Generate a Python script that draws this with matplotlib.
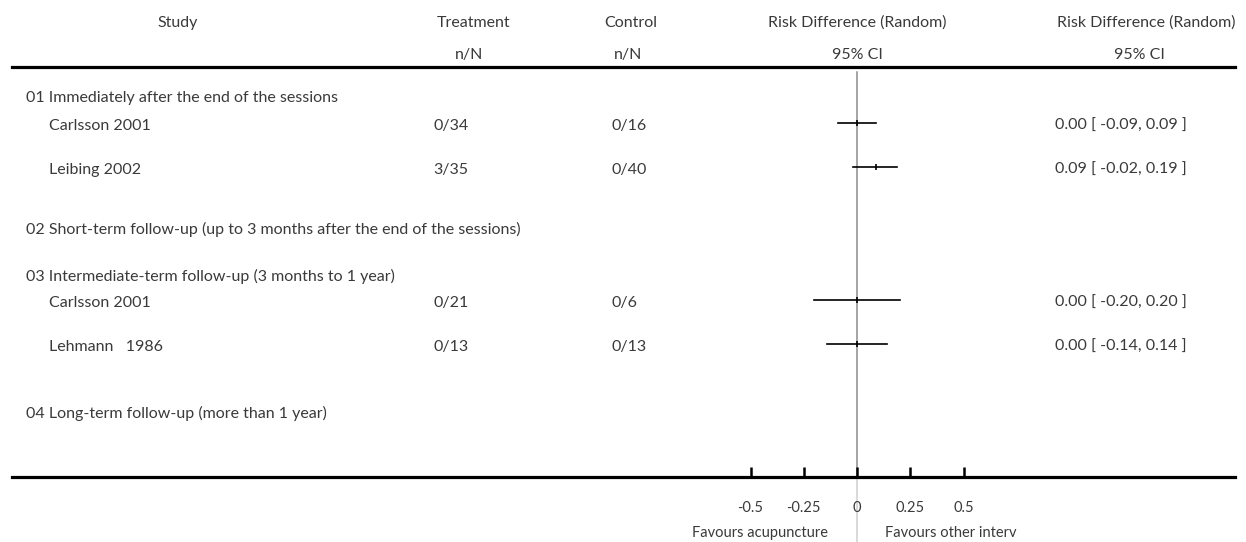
import matplotlib
matplotlib.use('Agg')
import matplotlib.pyplot as plt

plt.rcParams['font.family'] = ['Lato', 'DejaVu Sans']

# data
groups = ['01 Immediately after the end of the sessions',
          '02 Short-term follow-up (up to 3 months after the end of the sessions)',
          '03 Intermediate-term follow-up (3 months to 1 year)',
          '04 Long-term follow-up (more than 1 year)']
studies = ['Carlsson 2001', 'Leibing 2002', 'Carlsson 2001', 'Lehmann   1986']
treat = ['0/34', '3/35', '0/21', '0/13']
ctrl = ['0/16', '0/40', '0/6', '0/13']
rd = [0.00, 0.09, 0.00, 0.00]
lo = [-0.09, -0.02, -0.20, -0.14]
hi = [0.09, 0.19, 0.20, 0.14]
ticks = [-0.5, -0.25, 0, 0.25, 0.5]
tick_labels = ['-0.5', '-0.25', '0', '0.25', '0.5']

# layout (pixels)
W, H = 1246, 542
group_y = [98, 229, 276, 413]
study_y = [123, 167, 300, 344]
x0_px, unit_px = 857, 213
left_px, right_px, top_px, axis_px = 12, 1235, 67, 477

fig = plt.figure(figsize=(W / 100, H / 100), dpi=100)

bg = fig.add_axes([0, 0, 1, 1])
bg.set_xlim(0, W)
bg.set_ylim(H, 0)
bg.axis('off')

fs = 11.5
txt = '#3a3a3a'
kw = dict(fontsize=fs, color=txt)

# headers
bg.text(178, 23, 'Study', ha='center', va='center', **kw)
bg.text(474, 23, 'Treatment', ha='center', va='center', **kw)
bg.text(469, 55, 'n/N', ha='center', va='center', **kw)
bg.text(631, 23, 'Control', ha='center', va='center', **kw)
bg.text(628, 55, 'n/N', ha='center', va='center', **kw)
bg.text(857, 23, 'Risk Difference (Random)', ha='center', va='center', **kw)
bg.text(857, 55, '95% CI', ha='center', va='center', **kw)
bg.text(1146, 23, 'Risk Difference (Random)', ha='center', va='center', **kw)
bg.text(1139, 55, '95% CI', ha='center', va='center', **kw)

for g, y in zip(groups, group_y):
    bg.text(26, y, g, ha='left', va='center', **kw)

for i, y in enumerate(study_y):
    ty = y + 3
    bg.text(49, ty, studies[i], ha='left', va='center', **kw)
    bg.text(433, ty, treat[i], ha='left', va='center', **kw)
    bg.text(611, ty, ctrl[i], ha='left', va='center', **kw)
    bg.text(1055, ty, f'{rd[i]:.2f} [ {lo[i]:.2f}, {hi[i]:.2f} ]',
            ha='left', va='center', **kw)

# forest axes: x in risk difference units, y in pixels
ax = fig.add_axes([left_px / W, 1 - axis_px / H,
                   (right_px - left_px) / W, (axis_px - top_px) / H])
ax.set_xlim((left_px - x0_px) / unit_px, (right_px - x0_px) / unit_px)
ax.set_ylim(axis_px, top_px)
ax.patch.set_alpha(0)
for s in ['left', 'right']:
    ax.spines[s].set_visible(False)
ax.spines['top'].set_linewidth(2.3)
ax.spines['bottom'].set_linewidth(2.3)
ax.set_yticks([])
ax.set_xticks(ticks)
ax.set_xticklabels(tick_labels)
ax.tick_params(axis='x', direction='in', length=7, width=1.8, pad=17,
               labelsize=10.5, labelcolor=txt)

ax.plot([0, 0], [72, axis_px], color='#8c8c8c', lw=1.1, zorder=1)
ax.plot([0, 0], [axis_px, H], color='#d0d0d0', lw=1.1, clip_on=False, zorder=1)

for i, y in enumerate(study_y):
    ax.plot([lo[i], hi[i]], [y, y], color='black', lw=1.2, zorder=3)
    ax.plot([rd[i]], [y], marker='|', color='black', ms=5, mew=1.2, zorder=4)

bg.text(828, 533, 'Favours acupuncture', ha='right', va='center', fontsize=10.5,
        color=txt)
bg.text(885, 533, 'Favours other interv', ha='left', va='center', fontsize=10.5,
        color=txt)

fig.savefig('out.png', dpi=100)
